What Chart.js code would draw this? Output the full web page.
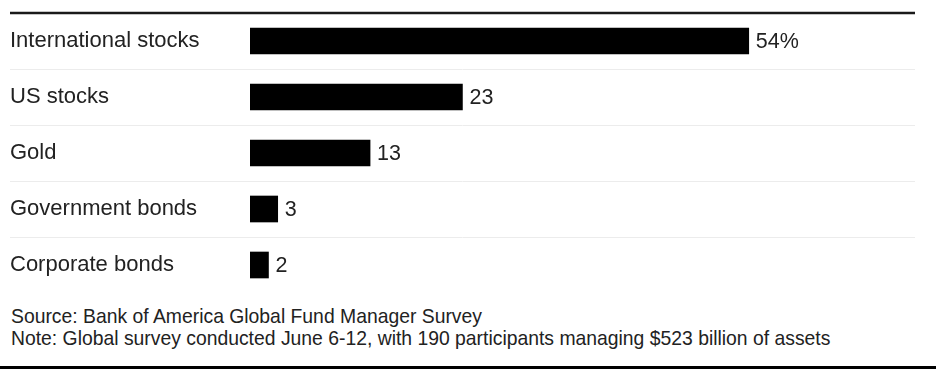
<!DOCTYPE html>
<html>
<head>
<meta charset="utf-8">
<script src="https://cdn.jsdelivr.net/npm/chart.js@4/dist/chart.umd.min.js"></script>
<style>
  html, body { margin: 0; padding: 0; background: #fff; }
  #wrap { position: relative; width: 936px; height: 369px; overflow: hidden; }
  #chartBox { position: absolute; left: 0; top: 0; width: 936px; height: 300px; }
  #footer {
    position: absolute; left: 11px; top: 305px;
    font-family: "Liberation Sans", Arial, sans-serif; font-size: 19.35px;
    line-height: 22px; color: #222;
  }
  #bottomRule { position: absolute; left: 0; top: 366px; width: 936px; height: 3px; background: #000; }
</style>
</head>
<body>
<div id="wrap">
  <div id="chartBox"><canvas id="chart"></canvas></div>
  <div id="footer">
    <div>Source: Bank of America Global Fund Manager Survey</div>
    <div>Note: Global survey conducted June 6-12, with 190 participants managing $523 billion of assets</div>
  </div>
  <div id="bottomRule"></div>
</div>
<script>
const categories = ["International stocks", "US stocks", "Gold", "Government bonds", "Corporate bonds"];
const values = [54, 23, 13, 3, 2];
const valueLabels = ["54%", "23", "13", "3", "2"];

const FONT = '"Liberation Sans", Arial, sans-serif';

// row rules: dark line on top, faint ones between rows
const rowRules = {
  id: 'rowRules',
  beforeDraw(chart) {
    const ctx = chart.ctx;
    const y = chart.scales.y;
    const area = chart.chartArea;
    const left = 10;
    ctx.save();
    for (let i = 1; i < categories.length; i++) {
      const py = Math.round((y.getPixelForValue(i - 1) + y.getPixelForValue(i)) / 2) + 0.5;
      ctx.strokeStyle = '#ececec';
      ctx.lineWidth = 1;
      ctx.beginPath();
      ctx.moveTo(left, py);
      ctx.lineTo(area.right, py);
      ctx.stroke();
    }
    ctx.strokeStyle = '#1a1a1a';
    ctx.lineWidth = 2.5;
    ctx.beginPath();
    ctx.moveTo(left, area.top);
    ctx.lineTo(area.right, area.top);
    ctx.stroke();
    ctx.restore();
  }
};

const barValues = {
  id: 'barValues',
  afterDatasetsDraw(chart) {
    const ctx = chart.ctx;
    const meta = chart.getDatasetMeta(0);
    ctx.save();
    ctx.font = '21.5px ' + FONT;
    ctx.fillStyle = '#222';
    ctx.textBaseline = 'middle';
    ctx.textAlign = 'left';
    meta.data.forEach((bar, i) => {
      ctx.fillText(valueLabels[i], bar.x + 7, bar.y + 1);
    });
    ctx.restore();
  }
};

new Chart(document.getElementById('chart'), {
  type: 'bar',
  data: {
    labels: categories,
    datasets: [{
      data: values,
      backgroundColor: '#000',
      borderWidth: 0,
      barThickness: 26
    }]
  },
  options: {
    indexAxis: 'y',
    responsive: true,
    maintainAspectRatio: false,
    animation: false,
    layout: { padding: { left: 10, top: 13, right: 21, bottom: 7 } },
    plugins: {
      legend: { display: false },
      tooltip: { enabled: false }
    },
    scales: {
      x: {
        display: false,
        min: 0,
        max: 72
      },
      y: {
        afterFit(scale) {
          scale.width = 240;
          scale.paddingTop = 0;
          scale.paddingBottom = 0;
        },
        border: { display: false },
        grid: { display: false, drawTicks: false },
        ticks: {
          crossAlign: 'far',
          padding: 0,
          color: '#222',
          font: { family: FONT, size: 22 }
        }
      }
    }
  },
  plugins: [rowRules, barValues]
});
</script>
</body>
</html>
